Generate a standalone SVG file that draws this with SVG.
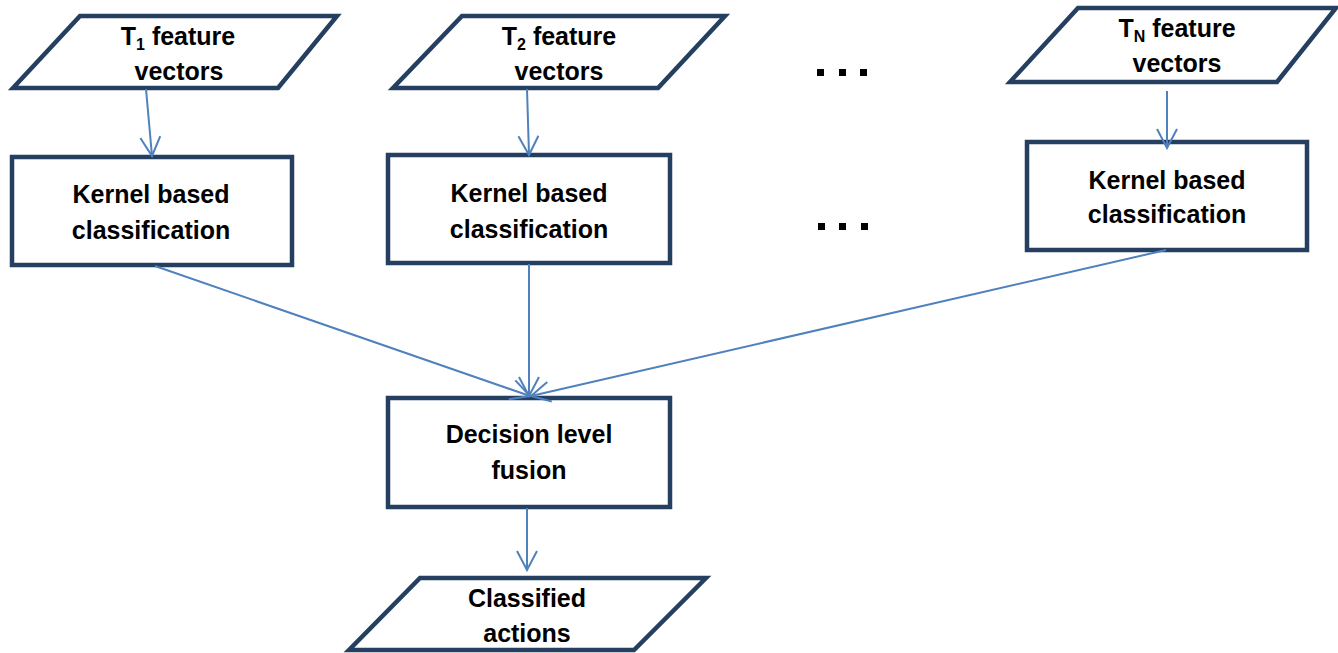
<svg xmlns="http://www.w3.org/2000/svg" width="1338" height="653" viewBox="0 0 1338 653">
  <style>
    .shape { fill: #ffffff; stroke: #243F60; stroke-width: 4.5; stroke-linejoin: miter; }
    .label { font-family: "Liberation Sans", Arial, sans-serif; font-weight: bold; font-size: 25px; fill: #000000; text-anchor: middle; }
    .sub { font-size: 16px; }
    .link { stroke: #4F81BD; stroke-width: 2; fill: none; marker-end: url(#arrow); }
    .dot { fill: #000000; }
  </style>
  <defs>
    <!-- open V arrowhead -->
    <marker id="arrow" viewBox="0 0 22 22" markerWidth="22" markerHeight="22" refX="20" refY="11" orient="auto" markerUnits="userSpaceOnUse">
      <path d="M1,1 L20,11 L1,21" fill="none" stroke="#4F81BD" stroke-width="2"/>
    </marker>
  </defs>

  <rect width="1338" height="653" fill="#ffffff"/>

  <!-- input feature vectors -->
  <g id="input1">
    <polygon class="shape" points="80,16 337,16 278,88 13,88"/>
    <text class="label" x="178" y="45">T<tspan class="sub" dy="5">1</tspan><tspan dy="-5"> feature</tspan></text>
    <text class="label" x="179" y="80">vectors</text>
  </g>
  <g id="input2">
    <polygon class="shape" points="462,16 725,16 658,88 393,88"/>
    <text class="label" x="559" y="45">T<tspan class="sub" dy="5">2</tspan><tspan dy="-5"> feature</tspan></text>
    <text class="label" x="559" y="80">vectors</text>
  </g>
  <g id="inputN">
    <polygon class="shape" points="1078,8 1336,8 1277,82 1010,82"/>
    <text class="label" x="1177" y="37">T<tspan class="sub" dy="5">N</tspan><tspan dy="-5"> feature</tspan></text>
    <text class="label" x="1177" y="72">vectors</text>
  </g>

  <!-- ellipsis between columns -->
  <g id="ellipsis-top">
    <rect class="dot" x="817" y="69" width="7" height="7"/>
    <rect class="dot" x="839" y="69" width="7" height="7"/>
    <rect class="dot" x="860" y="69" width="7" height="7"/>
  </g>
  <g id="ellipsis-mid">
    <rect class="dot" x="818" y="223" width="7" height="7"/>
    <rect class="dot" x="839" y="223" width="7" height="7"/>
    <rect class="dot" x="861" y="223" width="7" height="7"/>
  </g>

  <!-- classifiers -->
  <g id="classifier1">
    <rect class="shape" x="12" y="157" width="280" height="108"/>
    <text class="label" x="151" y="203">Kernel based</text>
    <text class="label" x="151" y="239">classification</text>
  </g>
  <g id="classifier2">
    <rect class="shape" x="388" y="155" width="282" height="108"/>
    <text class="label" x="529" y="202">Kernel based</text>
    <text class="label" x="529" y="238">classification</text>
  </g>
  <g id="classifierN">
    <rect class="shape" x="1027" y="142" width="280" height="108"/>
    <text class="label" x="1167" y="189">Kernel based</text>
    <text class="label" x="1167" y="223">classification</text>
  </g>

  <!-- fusion -->
  <g id="fusion">
    <rect class="shape" x="388" y="398" width="282" height="109"/>
    <text class="label" x="529" y="443">Decision level</text>
    <text class="label" x="529" y="479">fusion</text>
  </g>

  <!-- output -->
  <g id="output">
    <polygon class="shape" points="420,578 706,578 634,650 349,650"/>
    <text class="label" x="527" y="607">Classified</text>
    <text class="label" x="527" y="642">actions</text>
  </g>

  <!-- connectors -->
  <g id="connectors">
    <line class="link" x1="146" y1="89" x2="152" y2="156"/>
    <line class="link" x1="527" y1="89" x2="529" y2="155"/>
    <line class="link" x1="1167" y1="91" x2="1167" y2="148"/>
    <line class="link" x1="155" y1="266" x2="530" y2="396"/>
    <line class="link" x1="529" y1="264" x2="529" y2="396"/>
    <line class="link" x1="1166" y1="250" x2="531" y2="396"/>
    <line class="link" x1="527" y1="508" x2="527" y2="570"/>
  </g>
</svg>
